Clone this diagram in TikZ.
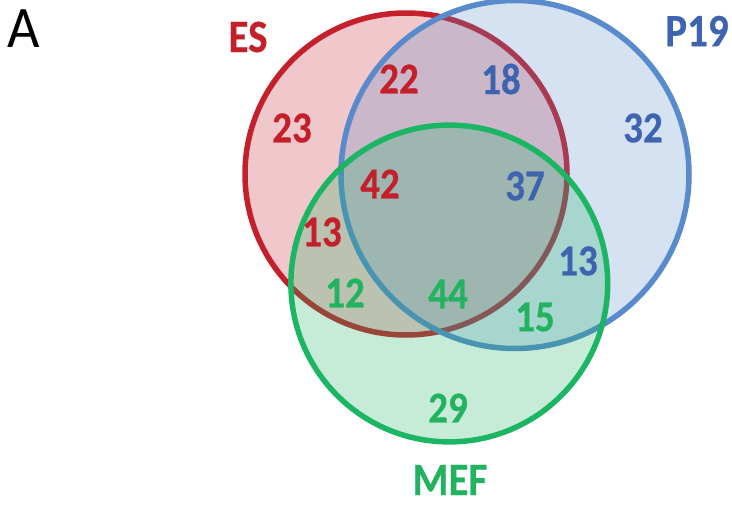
\documentclass[tikz,border=0pt]{standalone}
\usepackage{fontspec}
\setmainfont{Carlito}[BoldFeatures={FakeBold=0.6}]
\usepackage{graphicx}
\definecolor{esred}{RGB}{196,32,44}
\definecolor{pblue}{RGB}{88,138,204}
\definecolor{mgreen}{RGB}{28,181,100}
\definecolor{esredtxt}{RGB}{196,32,44}
\definecolor{pbluetxt}{RGB}{62,100,176}
\definecolor{mgreentxt}{RGB}{34,178,96}
\newcommand{\vst}[1]{\scalebox{1}[1.13]{#1}}
\tikzset{
  setcircle/.style={line width=5.5pt, draw=#1, fill=#1, fill opacity=0.25, draw opacity=1},
  num/.style={font=\fontsize{39}{39}\selectfont\bfseries, text=#1, inner sep=0pt},
  setlabel/.style={font=\fontsize{41}{41}\selectfont\bfseries, text=#1, inner sep=0pt},
}
\begin{document}
\begin{tikzpicture}[x=1pt,y=-1pt]
\useasboundingbox (0,0) rectangle (732,506);
% circles: ES, P19, MEF (drawn in this order)
\path[setcircle=esred] (406,174) circle[radius=161pt];
\path[setcircle=pblue] (515,174.5) circle[radius=174pt];
\path[setcircle=mgreen] (449.3,283.5) circle[radius=158.4pt];
% panel letter
\node[inner sep=0pt, font=\fontsize{56}{56}\selectfont, text=black] (lblA) at (24,29) {\scalebox{1}[1.05]{A}};
% set labels
\node[setlabel=esredtxt] (lblES) at (248,37) {\vst{ES}};
\node[setlabel=pbluetxt] (lblP) at (697,31) {\vst{P19}};
\node[setlabel=mgreentxt] (lblM) at (450,480) {\vst{MEF}};
% region counts
\node[num=esredtxt] (n23) at (292,128) {\vst{23}};
\node[num=esredtxt] (n22) at (399,79) {\vst{22}};
\node[num=pbluetxt] (n18) at (501,79) {\vst{18}};
\node[num=pbluetxt] (n32) at (643,128) {\vst{32}};
\node[num=esredtxt] (n42) at (380,184) {\vst{42}};
\node[num=pbluetxt] (n37) at (525,186) {\vst{37}};
\node[num=esredtxt] (n13a) at (322,232) {\vst{13}};
\node[num=pbluetxt] (n13b) at (578,261) {\vst{13}};
\node[num=mgreentxt] (n12) at (345,293) {\vst{12}};
\node[num=mgreentxt] (n44) at (448,294) {\vst{44}};
\node[num=mgreentxt] (n15) at (535,317) {\vst{15}};
\node[num=mgreentxt] (n29) at (448,408) {\vst{29}};
\end{tikzpicture}
\end{document}
